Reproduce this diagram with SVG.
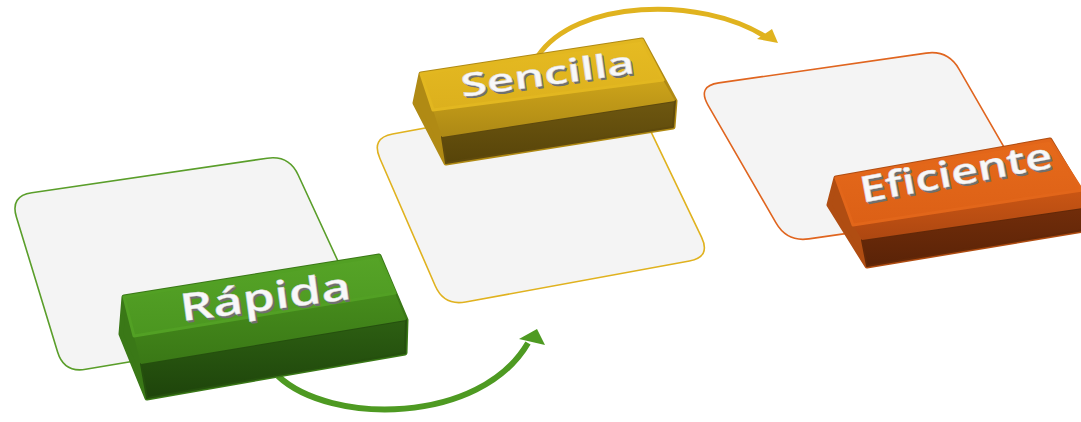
<svg xmlns="http://www.w3.org/2000/svg" width="1081" height="422" viewBox="0 0 1081 422">
<defs>
<style>
.panel{fill:#f4f4f4;stroke-width:1.6}
.lbl{font-family:"Open Sans","Noto Sans","Liberation Sans",sans-serif;font-weight:600;text-anchor:middle}
.sh2{fill:#707070}
.sh1{fill:#a8a8a8}
.top{fill:#f8f8f8;stroke:#d8d8d8;stroke-width:0.4}
.key path{stroke-linejoin:round}
</style>
<linearGradient id="gTop" x1="0" y1="0" x2="0" y2="1"><stop offset="0" stop-color="#56a427"/><stop offset="1" stop-color="#4b9620"/></linearGradient>
<linearGradient id="gCh" x1="0" y1="0" x2="0" y2="1"><stop offset="0" stop-color="#468c1c"/><stop offset="1" stop-color="#3a7816"/></linearGradient>
<linearGradient id="gFr" x1="0" y1="0" x2="0" y2="1"><stop offset="0" stop-color="#2d5f12"/><stop offset="1" stop-color="#1e440b"/></linearGradient>
<linearGradient id="yTop" x1="0" y1="0" x2="0" y2="1"><stop offset="0" stop-color="#e6bb22"/><stop offset="1" stop-color="#dcb01d"/></linearGradient>
<linearGradient id="yCh" x1="0" y1="0" x2="0" y2="1"><stop offset="0" stop-color="#cca31a"/><stop offset="1" stop-color="#ad8915"/></linearGradient>
<linearGradient id="yFr" x1="0" y1="0" x2="0" y2="1"><stop offset="0" stop-color="#6e5710"/><stop offset="1" stop-color="#574409"/></linearGradient>
<linearGradient id="oTop" x1="0" y1="0" x2="0" y2="1"><stop offset="0" stop-color="#e66a1b"/><stop offset="1" stop-color="#dc6016"/></linearGradient>
<linearGradient id="oCh" x1="0" y1="0" x2="0" y2="1"><stop offset="0" stop-color="#ca5614"/><stop offset="1" stop-color="#ad4711"/></linearGradient>
<linearGradient id="oFr" x1="0" y1="0" x2="0" y2="1"><stop offset="0" stop-color="#722d0a"/><stop offset="1" stop-color="#5a2307"/></linearGradient>
</defs>
<rect width="1081" height="422" fill="#ffffff"/>

<g id="connectors" fill="none" stroke-linecap="butt">
<path d="M278,376 C330,425 480,425 528,343" stroke="#4e9a22" stroke-width="6"/>
<polygon points="537,329 519,339 545,345" fill="#4e9a22"/>
<path d="M538,56 C575,0 700,-5 766,37" stroke="#e0b31f" stroke-width="5"/>
<polygon points="778,43 757,39 772,29" fill="#e0b31f"/>
</g>

<g id="node-rapida">
<path class="panel" stroke="#5a9e2a" d="M31.8,192.8 L267.2,158.2 Q289,155 298.2,175 L356.8,302 Q366,322 344.3,325.7 L85.7,369.3 Q64,373 57.6,352 L16.4,217 Q10,196 31.8,192.8 Z"/>
<g class="key">
<path d="M124,297 L379,256 L406,320 L405,353 L147,398 L121,334 Z" fill="#3a7817" stroke="#3a7817" stroke-width="5"/>
<path d="M141,364 L406,320 L405,353 L147,398 Z" fill="url(#gFr)" stroke="#25500e" stroke-width="2"/>
<path d="M134,336 L395,293 L406,320 L141,364 Z" fill="url(#gCh)"/>
<path d="M124,297 L379,256 L395,293 L134,336 Z" fill="url(#gTop)" stroke="#52a024" stroke-width="3"/>
</g>
<g transform="rotate(-7.5 267 310)">
<text class="lbl sh1" x="268" y="311.4" font-size="38" textLength="172" lengthAdjust="spacingAndGlyphs">Rápida</text>
<text class="lbl sh2" x="268.8" y="312.6" font-size="38" textLength="172" lengthAdjust="spacingAndGlyphs">Rápida</text>
<text class="lbl top" x="267" y="310" font-size="38" textLength="172" lengthAdjust="spacingAndGlyphs">Rápida</text>
</g>
</g>

<g id="node-sencilla">
<path class="panel" stroke="#e0b21f" d="M392.6,134 L609.4,94 Q631,90 640.5,109.8 L701.5,237.2 Q711,257 689.4,261 L465.6,302 Q444,306 435.2,285.8 L379.8,158.2 Q371,138 392.6,134 Z"/>
<g class="key">
<path d="M421,74 L642,40 L675,101 L673,127 L446,163 L415,103 Z" fill="#b08a14" stroke="#b08a14" stroke-width="5"/>
<path d="M442,137 L675,101 L673,127 L446,163 Z" fill="url(#yFr)" stroke="#5f4a0d" stroke-width="2"/>
<path d="M433,110 L663,80 L675,101 L442,137 Z" fill="url(#yCh)"/>
<path d="M421,74 L642,40 L663,80 L433,110 Z" fill="url(#yTop)" stroke="#e2b720" stroke-width="3"/>
</g>
<g transform="rotate(-7.8 549 85)">
<text class="lbl sh1" x="550" y="86.3" font-size="32" textLength="175" lengthAdjust="spacingAndGlyphs">Sencilla</text>
<text class="lbl sh2" x="550.7" y="87.4" font-size="32" textLength="175" lengthAdjust="spacingAndGlyphs">Sencilla</text>
<text class="lbl top" x="549" y="85" font-size="32" textLength="175" lengthAdjust="spacingAndGlyphs">Sencilla</text>
</g>
</g>

<g id="node-eficiente">
<path class="panel" stroke="#e0651f" d="M718.8,82.9 L926.2,53.1 Q948,50 959,69.1 L1027,186.9 Q1038,206 1016.2,209.1 L808.8,238.9 Q787,242 776,222.9 L708,105.1 Q697,86 718.8,82.9 Z"/>
<g class="key">
<path d="M836,178 L1050,140 L1090,207 L1090,229 L867,266 L829,205 Z" fill="#b04d12" stroke="#b04d12" stroke-width="5"/>
<path d="M862,240 L1090,207 L1090,229 L867,266 Z" fill="url(#oFr)" stroke="#632808" stroke-width="2"/>
<path d="M853,225 L1082,190 L1090,207 L862,240 Z" fill="url(#oCh)"/>
<path d="M836,178 L1050,140 L1082,190 L853,225 Z" fill="url(#oTop)" stroke="#e2661a" stroke-width="3"/>
</g>
<g transform="rotate(-10.5 958 185)">
<text class="lbl sh1" x="959" y="186.4" font-size="36" textLength="195" lengthAdjust="spacingAndGlyphs">Eficiente</text>
<text class="lbl sh2" x="959.8" y="187.6" font-size="36" textLength="195" lengthAdjust="spacingAndGlyphs">Eficiente</text>
<text class="lbl top" x="958" y="185" font-size="36" textLength="195" lengthAdjust="spacingAndGlyphs">Eficiente</text>
</g>
</g>
</svg>
